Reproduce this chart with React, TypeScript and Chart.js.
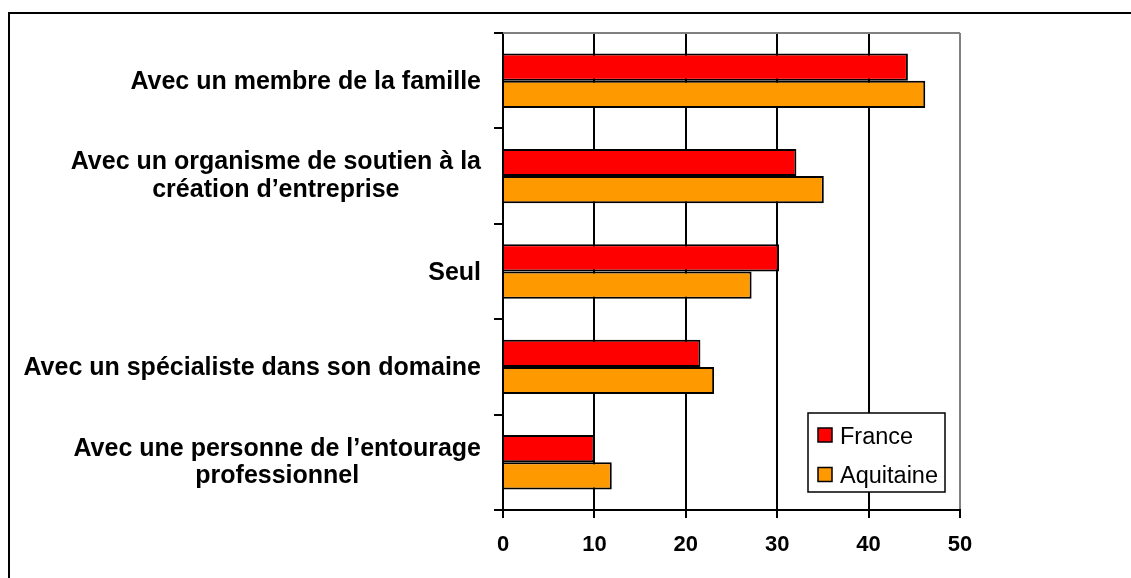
import React, { useEffect, useRef } from 'react';
import { Chart, registerables } from 'chart.js';

Chart.register(...registerables);

const categories: (string | string[])[] = [
  'Avec un membre de la famille',
  ['Avec un organisme de soutien à la', 'création d’entreprise'],
  'Seul',
  'Avec un spécialiste dans son domaine',
  ['Avec une personne de l’entourage', 'professionnel'],
];
const franceValues = [44.3, 32.1, 30.2, 21.6, 10.0];
const aquitaineValues = [46.2, 35.1, 27.2, 23.1, 11.9];
const seriesNames = ['France', 'Aquitaine'];
const seriesColors = ['#FF0000', '#FF9900'];
const xMin = 0;
const xMax = 50;
const xStep = 10;

const FONT = '"Liberation Sans", Arial, sans-serif';

const decorPlugin = {
  id: 'decor',
  beforeDraw(chart: any) {
    const { ctx, width, height } = chart;
    ctx.save();
    ctx.fillStyle = '#ffffff';
    ctx.fillRect(0, 0, width, height);
    // outer frame (cropped at right and bottom)
    ctx.strokeStyle = '#000000';
    ctx.lineWidth = 2;
    ctx.beginPath();
    ctx.moveTo(9, height + 5);
    ctx.lineTo(9, 13);
    ctx.lineTo(width + 5, 13);
    ctx.stroke();
    ctx.restore();
  },
  afterDraw(chart: any) {
    const { ctx, chartArea } = chart;
    const yScale = chart.scales.y;
    ctx.save();
    // plot area top border (gray)
    ctx.strokeStyle = '#808080';
    ctx.lineWidth = 2;
    ctx.beginPath();
    ctx.moveTo(chartArea.left, chartArea.top);
    ctx.lineTo(chartArea.right, chartArea.top);
    ctx.stroke();

    // category labels: block right-aligned, lines centered
    ctx.fillStyle = '#000000';
    ctx.font = `bold 25px ${FONT}`;
    ctx.textAlign = 'center';
    ctx.textBaseline = 'alphabetic';
    const lh = 27.5;
    const labels = chart.data.labels as (string | string[])[];
    labels.forEach((lab, i) => {
      const lines = Array.isArray(lab) ? lab : [lab];
      const widest = Math.max(...lines.map((l) => ctx.measureText(l).width));
      const cx = chartArea.left - 22 - widest / 2;
      const cy = yScale.getPixelForValue(i);
      const n = lines.length;
      lines.forEach((l, j) => {
        const y = cy - ((n - 1) * lh) / 2 + j * lh + 8.5 - (n - 1) * 1.5;
        ctx.fillText(l, cx, y);
      });
    });

    // legend box
    const bx = chartArea.right - 152;
    const by = chartArea.bottom - 97;
    const bw = 137;
    const bh = 79;
    ctx.fillStyle = '#ffffff';
    ctx.fillRect(bx, by, bw, bh);
    ctx.strokeStyle = '#000000';
    ctx.lineWidth = 1.5;
    ctx.strokeRect(bx, by, bw, bh);
    ctx.font = `23.5px ${FONT}`;
    ctx.textAlign = 'left';
    chart.data.datasets.forEach((ds: any, k: number) => {
      const my = by + 15 + k * 39.5;
      ctx.fillStyle = ds.backgroundColor;
      ctx.fillRect(bx + 10, my, 14, 14);
      ctx.strokeStyle = '#000000';
      ctx.lineWidth = 1.5;
      ctx.strokeRect(bx + 10, my, 14, 14);
      ctx.fillStyle = '#000000';
      ctx.fillText(ds.label, bx + 32, my + 15.5);
    });
    ctx.restore();
  },
};

export default function App() {
  const ref = useRef<HTMLCanvasElement | null>(null);
  useEffect(() => {
    if (!ref.current) return;
    const chart = new Chart(ref.current, {
      type: 'bar',
      data: {
        labels: categories as any,
        datasets: [
          {
            label: seriesNames[0],
            data: franceValues,
            backgroundColor: seriesColors[0],
            borderColor: '#000000',
            borderWidth: 2,
            categoryPercentage: 0.57,
            barPercentage: 1.0,
          },
          {
            label: seriesNames[1],
            data: aquitaineValues,
            backgroundColor: seriesColors[1],
            borderColor: '#000000',
            borderWidth: 2,
            categoryPercentage: 0.57,
            barPercentage: 1.0,
          },
        ],
      },
      options: {
        indexAxis: 'y',
        responsive: false,
        animation: false,
        layout: { padding: { left: 0, top: 33, right: 171, bottom: 0 } },
        plugins: {
          legend: { display: false },
          tooltip: { enabled: false },
        },
        scales: {
          x: {
            type: 'linear',
            min: xMin,
            max: xMax,
            ticks: {
              stepSize: xStep,
              color: '#000000',
              font: { family: FONT, size: 22, weight: 'bold' },
              padding: 14,
            },
            grid: {
              color: (c: any) => (c.tick && c.tick.value === xMax ? '#808080' : '#000000'),
              tickColor: '#000000',
              lineWidth: 2,
              tickLength: 8,
              drawTicks: true,
            },
            border: { display: true, color: '#000000', width: 2 },
            afterFit: (s: any) => {
              s.height = 68;
            },
          },
          y: {
            type: 'category',
            ticks: { display: false },
            grid: {
              drawOnChartArea: false,
              drawTicks: true,
              tickLength: 9,
              color: '#000000',
              lineWidth: 2,
            },
            border: { display: true, color: '#000000', width: 2 },
            afterFit: (s: any) => {
              s.width = 503;
            },
          },
        },
      },
      plugins: [decorPlugin],
    });
    return () => chart.destroy();
  }, []);
  return (
    <div style={{ position: 'absolute', left: 0, top: 0, width: 1131, height: 578 }}>
      <canvas ref={ref} width={1131} height={578} style={{ display: 'block' }} />
    </div>
  );
}
